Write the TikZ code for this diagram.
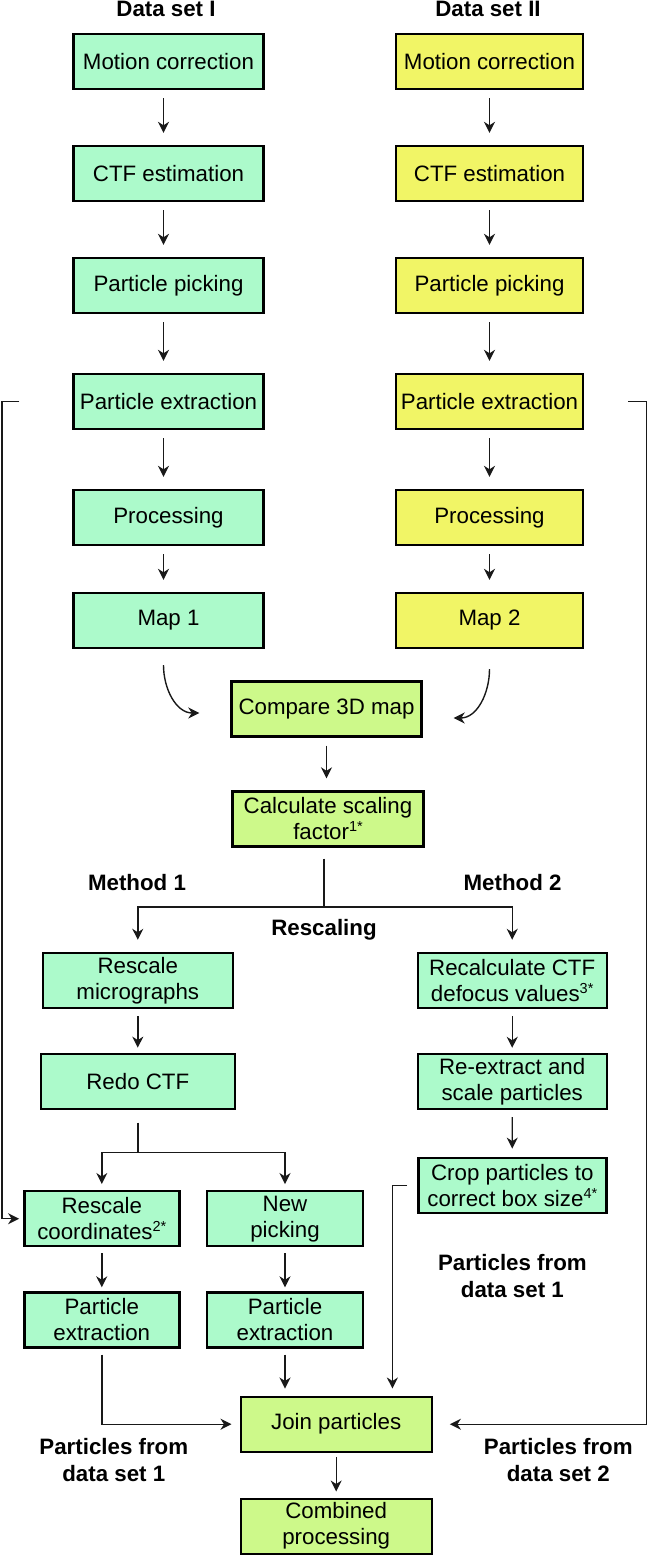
\documentclass[tikz,border=0pt]{standalone}
\usepackage{fontspec}
\setmainfont{Liberation Sans}
\usetikzlibrary{arrows.meta,calc}
\definecolor{mintc}{RGB}{172,250,203}
\definecolor{yelc}{RGB}{241,245,102}
\definecolor{limec}{RGB}{205,249,138}
\newcommand\supx[1]{\raisebox{8pt}{\fontsize{14.5}{14.5}\selectfont #1}}
\begin{document}
\begin{tikzpicture}[x=1pt,y=-1pt,
  box/.style={draw=black, line width=2.4pt, inner sep=0pt, align=center,
    minimum height=55pt, font=\fontsize{22.3}{26}\selectfont},
  mintbox/.style={box, fill=mintc},
  yelbox/.style={box, fill=yelc},
  limebox/.style={box, fill=limec},
  lbl/.style={align=center, inner sep=0pt, font=\fontsize{22.3}{27}\selectfont\bfseries},
  ln/.style={line width=1.4pt, draw=black!90},
  arr/.style={ln, -{Stealth[length=11pt,width=11pt,inset=3.5pt]}}
]
\path[use as bounding box] (0,0) rectangle (649,1556);

% headers
\node[lbl, anchor=base] (h1) at (166,16) {Data set I};
\node[lbl, anchor=base] (h2) at (488,16) {Data set II};

% left column
\node[mintbox, minimum width=190pt] (l1) at (168.5,61.5) {Motion correction};
\node[mintbox, minimum width=190pt] (l2) at (168.5,173.5) {CTF estimation};
\node[mintbox, minimum width=190pt] (l3) at (168.5,285.5) {Particle picking};
\node[mintbox, minimum width=190pt] (l4) at (168.5,401.5) {Particle extraction};
\node[mintbox, minimum width=190pt] (l5) at (168.5,517.5) {Processing};
\node[mintbox, minimum width=190pt] (l6) at (168.5,620.5) {Map 1};

% right column
\node[yelbox, minimum width=187pt] (r1) at (489.5,61.5) {Motion correction};
\node[yelbox, minimum width=187pt] (r2) at (489.5,173.5) {CTF estimation};
\node[yelbox, minimum width=187pt] (r3) at (489.5,285.5) {Particle picking};
\node[yelbox, minimum width=187pt] (r4) at (489.5,401.5) {Particle extraction};
\node[yelbox, minimum width=187pt] (r5) at (489.5,517.5) {Processing};
\node[yelbox, minimum width=187pt] (r6) at (489.5,620.5) {Map 2};

% column arrows
\foreach \a/\b in {1/2,2/3,3/4,4/5,5/6}{
  \draw[arr, shorten <=8pt, shorten >=12pt] ([xshift=-5pt]l\a.south) -- ([xshift=-5pt]l\b.north);
  \draw[arr, shorten <=8pt, shorten >=12pt] (r\a.south) -- (r\b.north);
}

% compare / calculate
\node[limebox, minimum width=190pt] (cmp) at (326.5,709) {Compare 3D map};
\node[limebox, minimum width=191pt] (calc) at (328,819) {Calculate scaling\\factor\supx{1*}};

\draw[arr] ([xshift=-5pt,yshift=-16pt]l6.south) to[out=-90,in=180] ([xshift=-31pt,yshift=-4pt]cmp.west);
\draw[arr] ([yshift=-20pt]r6.south) to[out=-90,in=0] ([xshift=31pt,yshift=-9pt]cmp.east);
\draw[arr, shorten <=8pt, shorten >=12pt] (cmp.south) -- (cmp.south |- calc.north);

% methods
\node[lbl, anchor=base] (m1) at (137,890) {Method 1};
\node[lbl, anchor=base] (m2) at (512.6,890) {Method 2};
\node[lbl, anchor=base] (rsc) at (324,935) {Rescaling};

\node[mintbox, minimum width=190pt] (rm) at (137.8,980.5) {Rescale\\micrographs};
\node[mintbox, minimum width=189pt] (rcv) at (512.2,980.5) {Recalculate CTF\\defocus values\supx{3*}};

\coordinate (split) at (324,907);
\draw[ln, shorten <=11pt] (calc.south -| split) -- (split);
\draw[arr, shorten >=12pt] (split) -| (rm.north);
\draw[arr, shorten >=12pt] (split) -| (rcv.north);

\node[mintbox, minimum width=194pt] (redo) at (137.8,1081.3) {Redo CTF};
\node[mintbox, minimum width=189pt] (rex) at (512.2,1081.5) {Re-extract and\\scale particles};
\node[mintbox, minimum width=188pt] (crop) at (512.3,1185.3) {Crop particles to\\correct box size\supx{4*}};

\draw[arr, shorten <=7pt, shorten >=5pt] (rm.south) -- (rm.south |- redo.north);
\draw[arr, shorten <=7pt, shorten >=5pt] (rcv.south) -- (rex.north);
\draw[arr, shorten <=7pt, shorten >=8pt] (rex.south) -- (crop.north);

\node[mintbox, minimum width=155pt] (rco) at (101.8,1218.7) {Rescale\\coordinates\supx{2*}};
\node[mintbox, minimum width=156pt] (np) at (285,1218.7) {New\\picking};
\node[mintbox, minimum width=155pt] (pe1) at (101.8,1320) {Particle\\extraction};
\node[mintbox, minimum width=156pt] (pe2) at (285,1320) {Particle\\extraction};

\coordinate (split2) at (137.8,1152.7);
\draw[ln, shorten <=12.5pt] (redo.south) -- (split2);
\draw[arr, shorten >=6pt] (split2) -| (rco.north);
\draw[arr, shorten >=6pt] (split2) -| (np.north);

\draw[arr, shorten <=6pt, shorten >=4pt] (rco.south) -- (pe1.north);
\draw[arr, shorten <=6pt, shorten >=4pt] (np.south) -- (pe2.north);

\node[lbl] (pfd1r) at (512.4,1276) {Particles from\\data set 1};

% join
\node[limebox, minimum width=191pt] (join) at (336.2,1424.2) {Join particles};
\node[limebox, minimum width=191pt] (comb) at (336.2,1526.2) {Combined\\processing};

\draw[arr, shorten <=6pt, shorten >=8pt] (pe1.south) |- (join.west);
\draw[arr, shorten <=6pt, shorten >=7pt] (pe2.south) -- (pe2.south |- join.north);
\coordinate (cropturn) at (392.4,1185.3);
\draw[arr, shorten <=10pt, shorten >=7pt] (crop.west) -- (cropturn) -- (cropturn |- join.north);
\draw[arr, shorten <=4pt, shorten >=6pt] (join.south) -- (comb.north);

\node[lbl] (pfd1) at (113.8,1460) {Particles from\\data set 1};
\node[lbl] (pfd2) at (558.3,1460) {Particles from\\data set 2};

% feedback lines
\draw[arr, shorten <=53pt, shorten >=4pt] (l4.west) -- ++(-70.5,0) |- (rco.west);
\draw[arr, shorten <=44pt, shorten >=17pt] (r4.east) -- ++(62.5,0) |- (join.east);
\end{tikzpicture}
\end{document}
